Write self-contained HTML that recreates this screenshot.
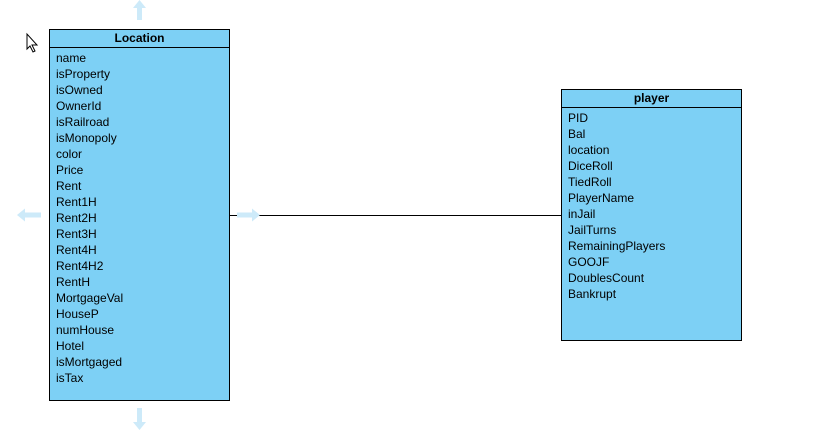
<!DOCTYPE html>
<html><head><style>
body{margin:0;width:818px;height:430px;background:#fff;position:relative;overflow:hidden;font-family:"Liberation Sans",Arial,sans-serif;font-size:12px;color:#000}
.box{position:absolute;background:#7dd0f5;border:1px solid #000;box-sizing:border-box}
.hd{height:17px;border-bottom:1px solid #000;text-align:center;font-weight:bold;line-height:16px}
.rows{padding:2px 0 0 6px}
.rows div{height:16px;line-height:16px}
</style></head><body>
<svg width="818" height="430" style="position:absolute;left:0;top:0">
<line x1="230" y1="215.5" x2="561" y2="215.5" stroke="#000" stroke-width="1"/>
<g fill="#cdeaf9">
<polygon points="139.5,0 146,8 142,8 142,20 137,20 137,8 133,8"/>
<polygon points="139.5,430 146,422 142,422 142,408 137,408 137,422 133,422"/>
<polygon points="17,215 25,208.5 25,212.5 41,212.5 41,217.5 25,217.5 25,221.5"/>
<polygon points="260,215 252,208.5 252,212.5 237,212.5 237,217.5 252,217.5 252,221.5"/>
</g>
<path d="M27,34 L27,49 L30,46 L33,52 L35,51 L32,45 L37,45 Z" fill="#fff" stroke="#000" stroke-width="1"/>
</svg>
<div class="box" style="left:49px;top:29px;width:181px;height:372px">
<div class="hd">Location</div>
<div class="rows"><div>name</div><div>isProperty</div><div>isOwned</div><div>OwnerId</div><div>isRailroad</div><div>isMonopoly</div><div>color</div><div>Price</div><div>Rent</div><div>Rent1H</div><div>Rent2H</div><div>Rent3H</div><div>Rent4H</div><div>Rent4H2</div><div>RentH</div><div>MortgageVal</div><div>HouseP</div><div>numHouse</div><div>Hotel</div><div>isMortgaged</div><div>isTax</div></div>
</div>
<div class="box" style="left:561px;top:89px;width:181px;height:252px">
<div class="hd">player</div>
<div class="rows"><div>PID</div><div>Bal</div><div>location</div><div>DiceRoll</div><div>TiedRoll</div><div>PlayerName</div><div>inJail</div><div>JailTurns</div><div>RemainingPlayers</div><div>GOOJF</div><div>DoublesCount</div><div>Bankrupt</div></div>
</div>
</body></html>
